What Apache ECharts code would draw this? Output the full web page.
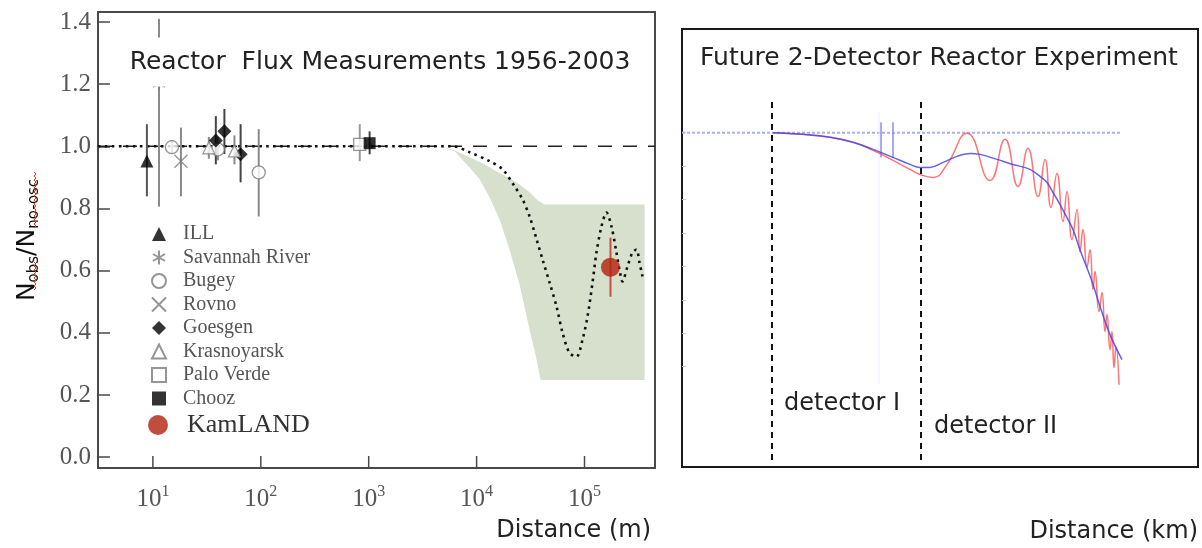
<!DOCTYPE html>
<html>
<head>
<meta charset="utf-8">
<title>Reactor flux measurements</title>
<script src="https://cdn.jsdelivr.net/npm/echarts@6/dist/echarts.min.js"></script>
<style>
html,body{margin:0;padding:0;background:#fff;}
#main{width:1202px;height:548px;}
</style>
</head>
<body>
<div id="main"></div>
<script>
// ---- left panel: N_obs/N_no-osc vs distance (m) ----
var ratioTicks = [0, 0.2, 0.4, 0.6, 0.8, 1.0, 1.2, 1.4];
var distTicks = [10, 100, 1000, 10000, 100000];

// [distance m, ratio, error low, error high]
var illPts = [[8.8, 0.953, 0.839, 1.071]];
var savannahPts = [[11.4, 1.2, 0.806, 1.41]];
var bugeyPts = [[15, 0.997, 0.975, 1.02], [40, 0.99, 0.955, 1.03], [95.7, 0.916, 0.774, 1.055]];
var rovnoPts = [[18.2, 0.952, 0.839, 1.06]];
var goesgenPts = [[38.3, 1.019, 0.942, 1.097], [46, 1.048, 0.975, 1.12], [65, 0.974, 0.884, 1.071]];
var krasPts = [[33, 0.995, 0.96, 1.03], [57, 0.985, 0.942, 1.035]];
var paloPts = [[826, 1.006, 0.952, 1.071]];
var choozPts = [[1020, 1.01, 0.974, 1.048]];
var kamlandPts = [[174000, 0.611, 0.516, 0.706]];

// oscillation expectation (dotted)
var theoryDist = [3.1, 230, 6000, 8600, 13200, 17400, 22500, 26700, 31000, 36000, 40900, 47500, 55100, 62600, 72600, 84300, 95700, 106600, 118600, 129000, 143600, 159900, 177800, 197800, 210900, 224800, 250100, 278200, 302900, 323000, 344600];
var theoryVal = [1, 1, 1, 0.981, 0.952, 0.926, 0.871, 0.829, 0.774, 0.700, 0.635, 0.561, 0.484, 0.400, 0.335, 0.323, 0.377, 0.452, 0.561, 0.658, 0.742, 0.787, 0.742, 0.658, 0.603, 0.565, 0.613, 0.658, 0.668, 0.626, 0.581];

// allowed band (green)
var bandUpperDist = [4540, 6250, 8600, 11860, 15300, 20200, 25000, 31000, 36700, 42700, 360000];
var bandUpperVal = [1.0, 0.987, 0.965, 0.942, 0.919, 0.897, 0.877, 0.852, 0.826, 0.813, 0.813];
var bandLowerDist = [4540, 6250, 8600, 10670, 13200, 16300, 20200, 25000, 31000, 36000, 39100, 360000];
var bandLowerVal = [1.0, 0.984, 0.932, 0.894, 0.835, 0.765, 0.668, 0.555, 0.410, 0.313, 0.248, 0.248];

// ---- right panel: future 2-detector experiment ----
var blueDist = [1.764, 2.345, 2.868, 3.314, 3.702, 4.089, 4.419, 4.612, 4.806, 5.058, 5.329, 5.581, 5.775, 6.105, 6.415, 6.744, 6.938, 7.074, 7.190, 7.326, 7.461, 7.578, 7.713, 7.946, 8.101, 8.295, 8.527];
var blueVal = [1.0, 0.995, 0.986, 0.971, 0.950, 0.926, 0.905, 0.896, 0.896, 0.911, 0.929, 0.938, 0.935, 0.920, 0.905, 0.890, 0.869, 0.851, 0.821, 0.785, 0.746, 0.710, 0.650, 0.555, 0.480, 0.396, 0.321];
var redDist = [1.764, 2.345, 2.868, 3.314, 3.702, 4.089, 4.419, 4.612, 4.864, 5.136, 5.523, 5.969, 6.260, 6.512, 6.705, 6.899, 7.035, 7.151, 7.267, 7.384, 7.461, 7.558, 7.655, 7.713, 7.771, 7.849, 7.907, 7.965, 8.004, 8.081, 8.140, 8.198, 8.236, 8.295, 8.333, 8.372, 8.411, 8.469];
var redVal = [1.0, 0.995, 0.986, 0.971, 0.947, 0.917, 0.890, 0.875, 0.866, 0.905, 0.998, 0.857, 0.980, 0.839, 0.953, 0.809, 0.920, 0.776, 0.878, 0.734, 0.824, 0.680, 0.770, 0.644, 0.710, 0.597, 0.650, 0.531, 0.585, 0.465, 0.522, 0.405, 0.456, 0.351, 0.405, 0.297, 0.360, 0.246];
var flatDist = [0, 8.527];
var flatVal = [1, 1];
var detectorDist = [1.744, 4.632];
var detectorSpan = [0.021, 1.097];
var markDist = [3.857, 4.089];
var markSpan = [0.926, 1.031];
var faintDist = [3.818];
var faintSpan = [0.246, 1.064];
var rightTicks = [0.3, 0.4, 0.5, 0.6, 0.7, 0.8, 0.9, 1.0];

var SERIF = 'Liberation Serif';
var SANS = 'DejaVu Sans';
var Y_MIN = -0.035, Y_MAX = 1.432;

function pairs(xs, ys) {
	var out = [];
	for (var i = 0; i < xs.length; i++) out.push([xs[i], ys[i]]);
	return out;
}

function errBars(name, pts, color, w, g) {
	return {
		type: 'custom', name: name, xAxisIndex: g, yAxisIndex: g, silent: true, z: 3,
		data: pts.map(function (d) { return [d[0], d[2], d[3]]; }),
		renderItem: function (params, api) {
			var lo = api.coord([api.value(0), api.value(1)]);
			var hi = api.coord([api.value(0), api.value(2)]);
			return {type: 'line', shape: {x1: lo[0], y1: lo[1], x2: hi[0], y2: hi[1]}, style: {stroke: color, lineWidth: w}};
		}
	};
}

function marks(name, pts, symbol, size, style) {
	return {
		type: 'scatter', name: name, xAxisIndex: 0, yAxisIndex: 0, z: 4,
		symbol: symbol, symbolSize: size,
		data: pts.map(function (d) { return [d[0], d[1]]; }),
		itemStyle: style
	};
}

function vlines(name, xs, span, color, w, type, g) {
	var d = xs.map(function (x) { return [x, span[0], span[1]]; });
	return {
		type: 'custom', name: name, xAxisIndex: g, yAxisIndex: g, silent: true, z: 2,
		data: d,
		renderItem: function (params, api) {
			var lo = api.coord([api.value(0), api.value(1)]);
			var hi = api.coord([api.value(0), api.value(2)]);
			return {type: 'line', shape: {x1: lo[0], y1: lo[1], x2: hi[0], y2: hi[1]}, style: {stroke: color, lineWidth: w, lineDash: type}};
		}
	};
}

var gray = '#7a7a7a';
var asterisk = 'path://M5,0L5,10M0.7,2.5L9.3,7.5M0.7,7.5L9.3,2.5';
var cross = 'path://M0,0L10,10M10,0L0,10';

var series = [
	{
		type: 'custom', name: 'band', xAxisIndex: 0, yAxisIndex: 0, silent: true, z: 1,
		data: [[bandUpperDist[0], bandUpperVal[0]]],
		renderItem: function (params, api) {
			var pts = [], i;
			for (i = 0; i < bandUpperDist.length; i++) pts.push(api.coord([bandUpperDist[i], bandUpperVal[i]]));
			for (i = bandLowerDist.length - 1; i >= 0; i--) pts.push(api.coord([bandLowerDist[i], bandLowerVal[i]]));
			return {type: 'polygon', shape: {points: pts}, style: {fill: '#d6e0cc'}};
		}
	},
	// decade ticks on the log axis (inside, pointing up)
	{
		type: 'custom', name: 'decade ticks', xAxisIndex: 0, yAxisIndex: 0, silent: true, z: 5,
		data: distTicks.map(function (d) { return [d, Y_MIN]; }),
		renderItem: function (params, api) {
			var p = api.coord([api.value(0), api.value(1)]);
			return {type: 'line', shape: {x1: p[0], y1: p[1], x2: p[0], y2: p[1] - 12}, style: {stroke: '#4a4a4a', lineWidth: 1.5}};
		}
	},
	{
		type: 'line', name: 'no oscillation', xAxisIndex: 0, yAxisIndex: 0, z: 2, symbol: 'none', silent: true,
		data: [[3.1, 1], [450000, 1]],
		lineStyle: {color: '#222', width: 1.5, type: [14, 11]}
	},
	{
		type: 'line', name: 'expectation', xAxisIndex: 0, yAxisIndex: 0, z: 2, symbol: 'none', silent: true,
		smooth: 0.3,
		data: pairs(theoryDist, theoryVal),
		lineStyle: {color: '#111', width: 2.6, type: [2.6, 4.4]}
	},
	errBars('ILL err', illPts, '#555', 2, 0),
	errBars('Savannah err', savannahPts, '#8a8a8a', 2, 0),
	errBars('Bugey err', bugeyPts, '#8a8a8a', 2, 0),
	errBars('Rovno err', rovnoPts, '#8a8a8a', 2, 0),
	errBars('Goesgen err', goesgenPts, '#444', 2, 0),
	errBars('Krasnoyarsk err', krasPts, '#8a8a8a', 2, 0),
	errBars('Palo err', paloPts, '#999', 2, 0),
	errBars('Chooz err', choozPts, '#444', 2, 0),
	errBars('KamLAND err', kamlandPts, '#c9503c', 2, 0),
	marks('ILL', illPts, 'triangle', 13, {color: '#000'}),
	marks('Savannah River', savannahPts, asterisk, 12, {color: 'rgba(0,0,0,0)', borderColor: gray, borderWidth: 1.2}),
	marks('Bugey', bugeyPts, 'circle', 13, {color: '#fff', borderColor: gray, borderWidth: 1.3}),
	marks('Rovno', rovnoPts, cross, 13, {color: 'rgba(0,0,0,0)', borderColor: gray, borderWidth: 1.3}),
	marks('Goesgen', goesgenPts, 'diamond', 14, {color: '#000'}),
	marks('Krasnoyarsk', krasPts, 'triangle', 12, {color: '#fff', borderColor: gray, borderWidth: 1.2}),
	marks('Palo Verde', paloPts, 'rect', 12, {color: '#fff', borderColor: gray, borderWidth: 1.3}),
	marks('Chooz', choozPts, 'rect', 12, {color: '#000'}),
	marks('KamLAND', kamlandPts, 'circle', 19, {color: '#b3200e'}),
	// right panel
	{
		type: 'line', name: 'flat', xAxisIndex: 1, yAxisIndex: 1, symbol: 'none', silent: true, z: 1,
		data: pairs(flatDist, flatVal),
		lineStyle: {color: '#a9aefc', width: 2, type: [3, 2]}
	},
	vlines('faint', faintDist, faintSpan, '#ececfc', 1, null, 1),
	vlines('marks', markDist, markSpan, '#7f86f2', 1.4, null, 1),
	vlines('detectors', detectorDist, detectorSpan, '#111', 2, [6, 5], 1),
	{
		type: 'line', name: 'oscillating', xAxisIndex: 1, yAxisIndex: 1, symbol: 'none', silent: true, z: 3,
		smooth: 0.5,
		data: pairs(redDist, redVal),
		lineStyle: {color: 'rgba(255,70,70,0.75)', width: 1.5}
	},
	{
		type: 'line', name: 'averaged', xAxisIndex: 1, yAxisIndex: 1, symbol: 'none', silent: true, z: 4,
		smooth: 0.4,
		data: pairs(blueDist, blueVal),
		lineStyle: {color: 'rgba(70,70,235,0.85)', width: 1.5}
	}
];

function squiggle(x, y1, y2) {
	var pts = [], k = 0;
	for (var y = y1; y <= y2; y += 2) { pts.push([x + (k % 2 ? 2 : 0), y]); k++; }
	return {type: 'polyline', z: 50, shape: {points: pts}, style: {stroke: '#e8361c', lineWidth: 1, fill: null}};
}

var option = {
	animation: false,
	backgroundColor: '#fff',
	grid: [
		{left: 98, top: 12, width: 557, height: 456, show: true, borderColor: '#4a4a4a', borderWidth: 2},
		{left: 682, top: 29, width: 516, height: 438, show: true, borderColor: '#1a1a1a', borderWidth: 2}
	],
	xAxis: [
		{
			type: 'log', logBase: 10, gridIndex: 0, min: 3.1, max: 450000,
			axisLine: {onZero: false, lineStyle: {color: '#4a4a4a', width: 2}},
			axisTick: {show: false},
			splitLine: {show: false}, minorTick: {show: false},
			axisLabel: {
				margin: 16, showMinLabel: false, showMaxLabel: false,
				formatter: function (v) {
					var e = Math.round(Math.log(v) / Math.LN10);
					if (Math.abs(Math.pow(10, e) - v) > v * 1e-6) return '';
					return '{b|10}{s|' + e + '}';
				},
				rich: {
					b: {fontFamily: SERIF, fontSize: 25, color: '#555', lineHeight: 30},
					s: {fontFamily: SERIF, fontSize: 16, color: '#555', verticalAlign: 'top', lineHeight: 16}
				}
			}
		},
		{
			type: 'value', gridIndex: 1, min: 0, max: 10,
			axisLine: {show: false, onZero: false}, axisTick: {show: false}, axisLabel: {show: false}, splitLine: {show: false}
		}
	],
	yAxis: [
		{
			type: 'value', gridIndex: 0, min: Y_MIN, max: Y_MAX,
			axisLine: {onZero: false, lineStyle: {color: '#4a4a4a', width: 2}},
			axisTick: {inside: true, length: 12, customValues: ratioTicks, lineStyle: {color: '#4a4a4a', width: 1.5}},
			splitLine: {show: false},
			axisLabel: {
				customValues: ratioTicks, margin: 7,
				fontFamily: SERIF, fontSize: 25, color: '#555',
				formatter: function (v) { return v.toFixed(1); }
			},
			name: '{n|N}{s|obs}{n|/N}{s|no-osc}',
			nameLocation: 'middle', nameRotate: 90, nameGap: 56,
			nameTextStyle: {
				rich: {
					n: {fontFamily: SANS, fontSize: 25, color: '#111', lineHeight: 30},
					s: {fontFamily: SANS, fontSize: 15, color: '#111', verticalAlign: 'bottom', lineHeight: 15}
				}
			}
		},
		{
			type: 'value', gridIndex: 1, min: 0, max: 1.31,
			axisLine: {show: false, onZero: false}, splitLine: {show: false}, axisLabel: {show: false},
			axisTick: {inside: true, length: 4, customValues: rightTicks, lineStyle: {color: '#c8c8c8', width: 1}}
		}
	],
	legend: [
		{
			orient: 'vertical', left: 146, top: 219, itemWidth: 14, itemHeight: 14, itemGap: 3.5,
			data: ['ILL', 'Savannah River', 'Bugey', 'Rovno', 'Goesgen', 'Krasnoyarsk', 'Palo Verde', 'Chooz'],
			selectedMode: false,
			formatter: function (name) { return '{t|' + name + '}'; },
			textStyle: {rich: {t: {fontFamily: SERIF, fontSize: 20, color: '#555', padding: [0, 0, 0, 12], lineHeight: 20}}}
		},
		{
			orient: 'vertical', left: 143, top: 407, itemWidth: 20, itemHeight: 20,
			data: ['KamLAND'], selectedMode: false,
			formatter: function (name) { return '{t|' + name + '}'; },
			textStyle: {rich: {t: {fontFamily: SERIF, fontSize: 26, color: '#333', padding: [0, 0, 0, 14]}}}
		}
	],
	graphic: [
		{type: 'text', z: 100, x: 380, y: 62, style: {text: 'Reactor  Flux Measurements 1956-2003', font: '25px "DejaVu Sans"', fill: '#222', align: 'center', verticalAlign: 'middle', backgroundColor: '#fff', padding: [12, 4]}},
		{type: 'text', z: 100, x: 651, y: 531, style: {text: 'Distance (m)', font: '24px "DejaVu Sans"', fill: '#222', align: 'right', verticalAlign: 'middle'}},
		{type: 'text', z: 100, x: 939, y: 58, style: {text: 'Future 2-Detector Reactor Experiment', font: '25px "DejaVu Sans"', fill: '#222', align: 'center', verticalAlign: 'middle'}},
		{type: 'text', z: 100, x: 1198, y: 532, style: {text: 'Distance (km)', font: '24px "DejaVu Sans"', fill: '#222', align: 'right', verticalAlign: 'middle'}},
		{type: 'text', z: 100, x: 784, y: 404, style: {text: 'detector I', font: '24px "DejaVu Sans"', fill: '#222', align: 'left', verticalAlign: 'middle'}},
		{type: 'text', z: 100, x: 934, y: 427, style: {text: 'detector II', font: '24px "DejaVu Sans"', fill: '#222', align: 'left', verticalAlign: 'middle'}},
		squiggle(34, 262, 290),
		squiggle(34, 172, 228)
	],
	series: series
};

var chart = echarts.init(document.getElementById('main'));
chart.setOption(option);
</script>
</body>
</html>
